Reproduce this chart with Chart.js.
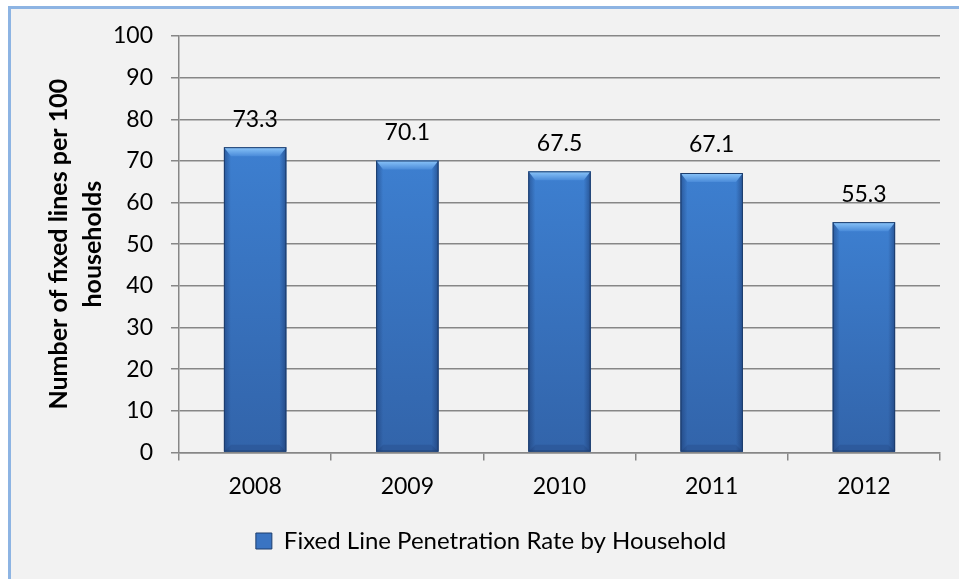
<!DOCTYPE html>
<html>
<head>
<meta charset="utf-8">
<script src="https://cdn.jsdelivr.net/npm/chart.js@4.4.1/dist/chart.umd.min.js"></script>
<style>
  html, body { margin: 0; padding: 0; background: #fff; }
  #frame { position: absolute; left: 8px; top: 6px; width: 948px; height: 570px; background: #f2f2f2; border-left: 3px solid #8db4e3; border-top: 3px solid #8db4e3; }
  #wrap { position: absolute; left: 0; top: 0; width: 959px; height: 579px; }
</style>
</head>
<body>
<div id="frame"></div>
<div id="wrap"><canvas id="chart" width="959" height="579"></canvas></div>
<script>
var years = ['2008', '2009', '2010', '2011', '2012'];
var penetration = [73.3, 70.1, 67.5, 67.1, 55.3];
var yTicks = [0, 10, 20, 30, 40, 50, 60, 70, 80, 90, 100];

var seriesName = 'Fixed Line Penetration Rate by Household';
var yTitle = ['Number of fixed lines per 100', 'households'];
var fontFamily = 'Lato, "Open Sans", sans-serif';
var gridColor = '#878787';

// bevel look on top of each bar
var bevelBars = {
  id: 'bevelBars',
  afterDatasetsDraw: function(chart) {
    var ctx = chart.ctx;
    var meta = chart.getDatasetMeta(0);
    meta.data.forEach(function(bar) {
      var l = bar.x - bar.width / 2, r = bar.x + bar.width / 2;
      var t = bar.y, b = bar.base;
      var w = r - l, h = b - t;
      ctx.save();
      var body = ctx.createLinearGradient(0, t, 0, b);
      body.addColorStop(0, '#3d7fd0');
      body.addColorStop(1, '#3264aa');
      ctx.fillStyle = body;
      ctx.fillRect(l, t, w, h);

      var lg = ctx.createLinearGradient(l, 0, l + 7, 0);
      lg.addColorStop(0, 'rgba(20,45,95,0.45)');
      lg.addColorStop(1, 'rgba(20,45,95,0)');
      ctx.fillStyle = lg;
      ctx.fillRect(l, t, 7, h);
      var rg = ctx.createLinearGradient(r - 7, 0, r, 0);
      rg.addColorStop(0, 'rgba(20,45,95,0)');
      rg.addColorStop(1, 'rgba(20,45,95,0.5)');
      ctx.fillStyle = rg;
      ctx.fillRect(r - 7, t, 7, h);

      var tg = ctx.createLinearGradient(0, t, 0, t + 9);
      tg.addColorStop(0, '#8cc6fa');
      tg.addColorStop(1, '#4a8bd9');
      ctx.fillStyle = tg;
      ctx.beginPath();
      ctx.moveTo(l, t);
      ctx.lineTo(r, t);
      ctx.lineTo(r - 7, t + 9);
      ctx.lineTo(l + 7, t + 9);
      ctx.closePath();
      ctx.fill();

      ctx.fillStyle = 'rgba(20,45,95,0.18)';
      ctx.beginPath();
      ctx.moveTo(l, b);
      ctx.lineTo(r, b);
      ctx.lineTo(r - 7, b - 7);
      ctx.lineTo(l + 7, b - 7);
      ctx.closePath();
      ctx.fill();

      ctx.strokeStyle = '#1d3d6c';
      ctx.lineWidth = 1;
      ctx.strokeRect(l + 0.5, t + 0.5, w - 1, h - 1);
      ctx.restore();
    });
  }
};

var valueLabels = {
  id: 'valueLabels',
  afterDatasetsDraw: function(chart) {
    var ctx = chart.ctx;
    var meta = chart.getDatasetMeta(0);
    ctx.save();
    ctx.font = '23px ' + fontFamily;
    ctx.fillStyle = '#000';
    ctx.textAlign = 'center';
    ctx.textBaseline = 'middle';
    meta.data.forEach(function(bar, i) {
      ctx.fillText(penetration[i].toFixed(1), bar.x, bar.y - 28);
    });
    ctx.restore();
  }
};

new Chart(document.getElementById('chart').getContext('2d'), {
  type: 'bar',
  data: {
    labels: years,
    datasets: [{
      label: seriesName,
      data: penetration,
      backgroundColor: '#3a74c2',
      borderColor: '#1d3d6c',
      borderWidth: 1,
      categoryPercentage: 1,
      barPercentage: 0.41
    }]
  },
  options: {
    responsive: false,
    animation: false,
    layout: { padding: { left: 42, right: 19, top: 36, bottom: 16 } },
    plugins: {
      legend: {
        position: 'bottom',
        labels: { color: '#000', font: { family: fontFamily, size: 24 }, boxWidth: 16, boxHeight: 16, padding: 10 }
      },
      tooltip: { enabled: false }
    },
    scales: {
      x: {
        afterFit: function(scale) { scale.height += 7; },
        grid: { drawOnChartArea: false, drawTicks: true, tickLength: 8, color: gridColor, lineWidth: 1.5 },
        border: { color: gridColor, width: 1.5 },
        ticks: { color: '#000', font: { family: fontFamily, size: 23 }, padding: 12 }
      },
      y: {
        min: 0,
        max: 100,
        afterBuildTicks: function(scale) {
          scale.ticks = yTicks.map(function(v) { return { value: v }; });
        },
        grid: { color: gridColor, lineWidth: 1.5, tickLength: 8 },
        border: { color: gridColor, width: 1.5 },
        ticks: { color: '#000', font: { family: fontFamily, size: 23 }, padding: 18 },
        title: {
          display: true,
          text: yTitle,
          color: '#000',
          font: { family: fontFamily, size: 25, weight: 'bold', lineHeight: 1.36 },
          padding: { top: 0, bottom: -15 }
        }
      }
    }
  },
  plugins: [bevelBars, valueLabels]
});
</script>
</body>
</html>
